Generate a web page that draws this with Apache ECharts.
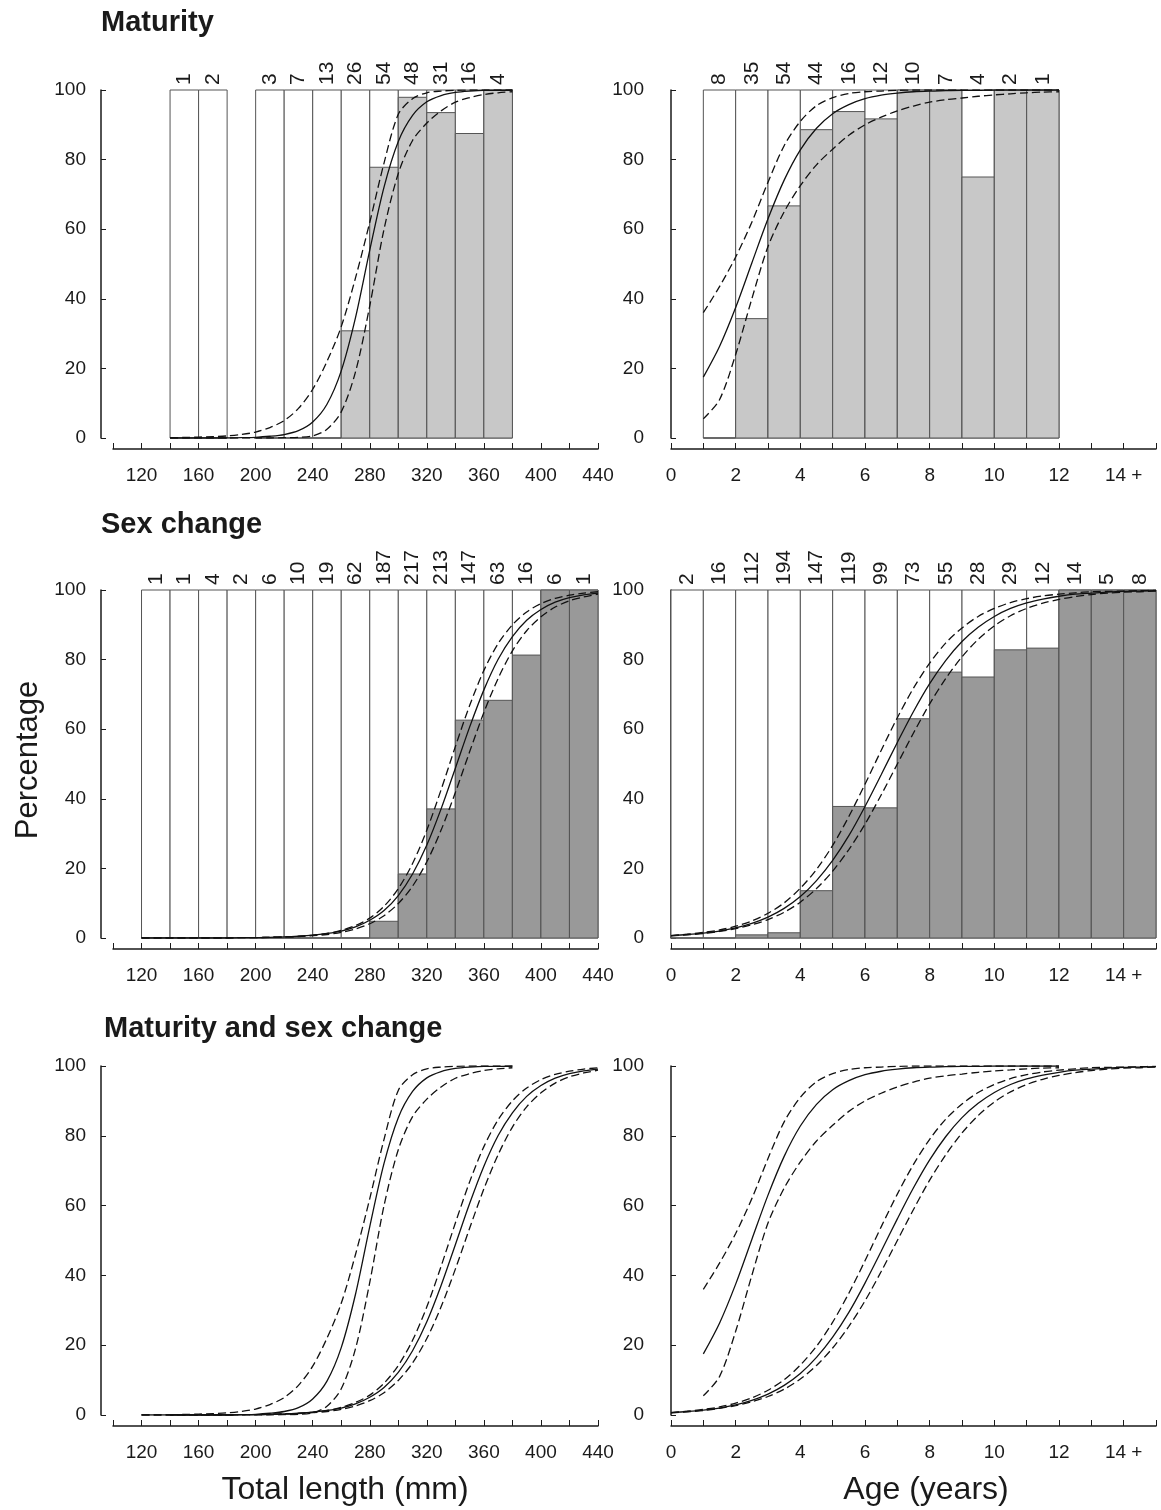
<!DOCTYPE html>
<html>
<head>
<meta charset="utf-8">
<script src="https://cdn.jsdelivr.net/npm/echarts@6/dist/echarts.min.js"></script>
<style>
  html, body { margin: 0; background: #fff; }
  #chart { width: 1161px; height: 1510px; }
</style>
</head>
<body>
<div id="chart"></div>
<script>
// ---- bars: bin start, sample size (n), percentage mature / changed sex
var matLenStart = [140, 160, 200, 220, 240, 260, 280, 300, 320, 340, 360]
var matLenN = [1, 2, 3, 7, 13, 26, 54, 48, 31, 16, 4]
var matLenPct = [0, 0, 0, 0, 0, 30.8, 77.8, 97.9, 93.5, 87.5, 100]

var matAgeStart = [1, 2, 3, 4, 5, 6, 7, 8, 9, 10, 11]
var matAgeN = [8, 35, 54, 44, 16, 12, 10, 7, 4, 2, 1]
var matAgePct = [0, 34.3, 66.7, 88.6, 93.8, 91.7, 100, 100, 75, 100, 100]

var sexLenStart = [120, 140, 160, 180, 200, 220, 240, 260, 280, 300, 320, 340, 360, 380, 400, 420]
var sexLenN = [1, 1, 4, 2, 6, 10, 19, 62, 187, 217, 213, 147, 63, 16, 6, 1]
var sexLenPct = [0, 0, 0, 0, 0, 0, 0, 0, 4.8, 18.4, 37.1, 62.6, 68.3, 81.3, 100, 100]

var sexAgeStart = [0, 1, 2, 3, 4, 5, 6, 7, 8, 9, 10, 11, 12, 13, 14]
var sexAgeN = [2, 16, 112, 194, 147, 119, 99, 73, 55, 28, 29, 12, 14, 5, 8]
var sexAgePct = [0, 0, 0.9, 1.5, 13.6, 37.8, 37.4, 63.0, 76.4, 75.0, 82.8, 83.3, 100, 100, 100]

// ---- fitted curves (fit, upper and lower confidence limits)
var matLenX = [140, 150, 160, 170, 180, 190, 200, 210, 220, 230, 240, 250, 260, 270, 280, 290, 300, 310, 320, 330, 340, 350, 360, 370, 380]
var matLenFit = [0, 0, 0, 0, 0, 0.1, 0.2, 0.5, 1.0, 2.1, 4.6, 9.7, 19.3, 34.6, 54, 72.1, 85.2, 92.7, 96.6, 98.4, 99.3, 99.7, 99.9, 99.9, 100]
var matLenUp = [0.1, 0.15, 0.25, 0.4, 0.6, 1.0, 1.7, 3.0, 5.0, 8.5, 14, 22, 32, 46, 62, 79, 93, 97.5, 99.2, 99.7, 99.9, 100, 100, 100, 100]
var matLenLo = [0, 0, 0, 0, 0, 0, 0, 0, 0.1, 0.2, 0.6, 2.5, 7.5, 19, 38, 60, 76, 85.5, 90.5, 94, 96.5, 97.8, 98.7, 99.2, 99.5]

var matAgeX = [1, 1.5, 2, 2.5, 3, 3.5, 4, 4.5, 5, 5.5, 6, 6.5, 7, 7.5, 8, 8.5, 9, 9.5, 10, 10.5, 11, 11.5, 12]
var matAgeFit = [17.5, 26.3, 37.5, 50.3, 63, 74.1, 82.8, 89, 93.2, 95.8, 97.5, 98.5, 99.1, 99.5, 99.7, 99.8, 99.9, 99.9, 100, 100, 100, 100, 100]
var matAgeUp = [36, 43.5, 52, 62, 73.5, 84, 91, 95.5, 97.8, 99, 99.5, 99.7, 99.9, 100, 100, 100, 100, 100, 100, 100, 100, 100, 100]
var matAgeLo = [5.5, 11, 24, 40, 55, 65, 72.5, 78.5, 83, 87, 90, 92.2, 94, 95.4, 96.5, 97.2, 97.7, 98.2, 98.6, 98.9, 99.2, 99.4, 99.5]

var sexLenX = [120, 130, 140, 150, 160, 170, 180, 190, 200, 210, 220, 230, 240, 250, 260, 270, 280, 290, 300, 310, 320, 330, 340, 350, 360, 370, 380, 390, 400, 410, 420, 430, 440]
var sexLenFit = [0, 0, 0, 0, 0, 0, 0, 0.1, 0.1, 0.2, 0.3, 0.5, 0.8, 1.3, 2.0, 3.2, 5.1, 7.9, 12.2, 18.4, 26.7, 37.1, 48.8, 60.6, 71.3, 80.1, 86.6, 91.3, 94.4, 96.5, 97.8, 98.6, 99.1]
var sexLenUp = [0, 0, 0, 0, 0, 0, 0, 0.1, 0.1, 0.2, 0.3, 0.5, 0.8, 1.3, 2.2, 3.6, 5.7, 9.1, 14.2, 21.4, 31.0, 42.6, 55.0, 66.8, 76.9, 84.6, 90.0, 93.7, 96.1, 97.6, 98.5, 99.1, 99.5]
var sexLenLo = [0, 0, 0, 0, 0, 0, 0, 0.1, 0.1, 0.2, 0.3, 0.4, 0.7, 1.0, 1.6, 2.6, 4.1, 6.4, 9.9, 14.9, 21.9, 31.0, 41.8, 53.5, 64.8, 74.6, 82.5, 88.3, 92.3, 95.1, 96.9, 98.0, 98.8]

var sexAgeX = [0, 0.5, 1, 1.5, 2, 2.5, 3, 3.5, 4, 4.5, 5, 5.5, 6, 6.5, 7, 7.5, 8, 8.5, 9, 9.5, 10, 10.5, 11, 11.5, 12, 12.5, 13, 13.5, 14, 14.5, 15]
var sexAgeFit = [0.7, 1.0, 1.4, 2.0, 2.9, 4.2, 6.0, 8.5, 11.9, 16.5, 22.3, 29.4, 37.8, 46.9, 56.2, 65.1, 73.1, 79.8, 85.2, 89.3, 92.4, 94.7, 96.3, 97.4, 98.2, 98.8, 99.1, 99.4, 99.6, 99.7, 99.8]
var sexAgeUp = [0.7, 1.1, 1.6, 2.3, 3.4, 4.9, 7.1, 10.1, 14.3, 19.7, 26.6, 34.9, 44.2, 53.9, 63.3, 71.8, 79.0, 84.8, 89.1, 92.4, 94.7, 96.4, 97.5, 98.3, 98.8, 99.2, 99.5, 99.6, 99.7, 99.8, 99.9]
var sexAgeLo = [0.6, 0.9, 1.3, 1.9, 2.7, 3.8, 5.3, 7.4, 10.3, 14.2, 19.2, 25.4, 32.7, 41.1, 50.0, 58.9, 67.3, 74.6, 80.8, 85.8, 89.7, 92.6, 94.7, 96.2, 97.3, 98.1, 98.7, 99.1, 99.4, 99.5, 99.7]

var FONT = '"Liberation Sans", Arial, sans-serif'
var INK = '#1a1a1a'
var GREY_MAT = '#c8c8c8'
var GREY_SEX = '#999999'

var myChart = echarts.init(document.getElementById('chart'))

// one panel per grid: length on the left, age on the right
var grids = [
  { left: 113, top: 90, width: 485, height: 348 },
  { left: 671, top: 90, width: 485, height: 348 },
  { left: 113, top: 590, width: 485, height: 348 },
  { left: 671, top: 590, width: 485, height: 348 },
  { left: 113, top: 1066, width: 485, height: 349 },
  { left: 671, top: 1066, width: 485, height: 349 }
]

function xAx (i) {
  var isLen = i % 2 === 0
  return {
    type: 'value',
    gridIndex: i,
    min: isLen ? 100 : 0,
    max: isLen ? 440 : 15,
    interval: isLen ? 20 : 1,
    offset: 11,
    axisLine: { show: true, onZero: false, lineStyle: { color: INK, width: 1.5 } },
    axisTick: { show: true, inside: true, length: 6, lineStyle: { color: INK, width: 1 } },
    axisLabel: {
      margin: 17,
      fontSize: 19,
      color: INK,
      fontFamily: FONT,
      formatter: isLen
        ? function (v) { return v % 40 === 0 ? String(v) : '' }
        : function (v) { return v % 2 === 0 ? (v === 14 ? '14 +' : String(v)) : '' }
    },
    splitLine: { show: false }
  }
}

function yAx (i) {
  return {
    type: 'value',
    gridIndex: i,
    min: 0,
    max: 100,
    interval: 20,
    offset: 12,
    axisLine: { show: true, lineStyle: { color: INK, width: 1.5 } },
    axisTick: { show: true, inside: true, length: 5, lineStyle: { color: INK, width: 1 } },
    axisLabel: { margin: 15, fontSize: 19, color: INK, fontFamily: FONT },
    splitLine: { show: false }
  }
}

// white 0-100 column, grey fraction on top of it, n written above
function makeRender (color) {
  return function (params, api) {
    var x0 = api.value(0)
    var x1 = api.value(1)
    var p = api.value(2)
    var n = api.value(3)
    var a = api.coord([x0, 0])
    var b = api.coord([x1, 100])
    var c = api.coord([x1, p])
    return {
      type: 'group',
      children: [
        {
          type: 'rect',
          shape: { x: a[0], y: b[1], width: b[0] - a[0], height: a[1] - b[1] },
          style: { fill: '#fff', stroke: '#555', lineWidth: 1 }
        },
        {
          type: 'rect',
          shape: { x: a[0], y: c[1], width: c[0] - a[0], height: a[1] - c[1] },
          style: { fill: color, stroke: '#555', lineWidth: 1 }
        },
        {
          type: 'text',
          x: (a[0] + b[0]) / 2,
          y: b[1] - 5,
          rotation: Math.PI / 2,
          style: { text: String(n), align: 'left', verticalAlign: 'middle', fontSize: 21, fontFamily: FONT, fill: INK }
        }
      ]
    }
  }
}

function barSeries (i, starts, w, pct, n, color) {
  return {
    type: 'custom',
    xAxisIndex: i,
    yAxisIndex: i,
    clip: false,
    z: 1,
    renderItem: makeRender(color),
    encode: { x: [0, 1], y: 2 },
    data: starts.map(function (s, k) { return [s, s + w, pct[k], n[k]] })
  }
}

function lineSeries (i, xs, ys, dashed) {
  return {
    type: 'line',
    xAxisIndex: i,
    yAxisIndex: i,
    z: 3,
    symbol: 'none',
    smooth: 0.3,
    silent: true,
    lineStyle: { color: '#111', width: 1.3, type: dashed ? [8, 4] : 'solid' },
    data: xs.map(function (x, k) { return [x, ys[k]] })
  }
}

function curves (i, xs, fit, up, lo) {
  return [lineSeries(i, xs, fit, false), lineSeries(i, xs, up, true), lineSeries(i, xs, lo, true)]
}

var series = [
  barSeries(0, matLenStart, 20, matLenPct, matLenN, GREY_MAT),
  barSeries(1, matAgeStart, 1, matAgePct, matAgeN, GREY_MAT),
  barSeries(2, sexLenStart, 20, sexLenPct, sexLenN, GREY_SEX),
  barSeries(3, sexAgeStart, 1, sexAgePct, sexAgeN, GREY_SEX)
]
series = series
  .concat(curves(0, matLenX, matLenFit, matLenUp, matLenLo))
  .concat(curves(1, matAgeX, matAgeFit, matAgeUp, matAgeLo))
  .concat(curves(2, sexLenX, sexLenFit, sexLenUp, sexLenLo))
  .concat(curves(3, sexAgeX, sexAgeFit, sexAgeUp, sexAgeLo))
  .concat(curves(4, matLenX, matLenFit, matLenUp, matLenLo))
  .concat(curves(4, sexLenX, sexLenFit, sexLenUp, sexLenLo))
  .concat(curves(5, matAgeX, matAgeFit, matAgeUp, matAgeLo))
  .concat(curves(5, sexAgeX, sexAgeFit, sexAgeUp, sexAgeLo))

var titleStyle = { fontSize: 29, fontWeight: 'bold', color: INK, fontFamily: FONT }

myChart.setOption({
  backgroundColor: '#fff',
  animation: false,
  title: [
    { text: 'Maturity', left: 101, top: 8, padding: 0, textStyle: titleStyle },
    { text: 'Sex change', left: 101, top: 510, padding: 0, textStyle: titleStyle },
    { text: 'Maturity and sex change', left: 104, top: 1014, padding: 0, textStyle: titleStyle }
  ],
  grid: grids,
  xAxis: [0, 1, 2, 3, 4, 5].map(xAx),
  yAxis: [0, 1, 2, 3, 4, 5].map(yAx),
  series: series,
  graphic: [
    {
      type: 'text',
      x: 28,
      y: 760,
      rotation: Math.PI / 2,
      style: { text: 'Percentage', align: 'center', verticalAlign: 'middle', fontSize: 31, fontFamily: FONT, fill: INK }
    },
    {
      type: 'text',
      x: 345,
      y: 1490,
      style: { text: 'Total length (mm)', align: 'center', verticalAlign: 'middle', fontSize: 32, fontFamily: FONT, fill: INK }
    },
    {
      type: 'text',
      x: 926,
      y: 1490,
      style: { text: 'Age (years)', align: 'center', verticalAlign: 'middle', fontSize: 32, fontFamily: FONT, fill: INK }
    }
  ]
})
</script>
</body>
</html>
